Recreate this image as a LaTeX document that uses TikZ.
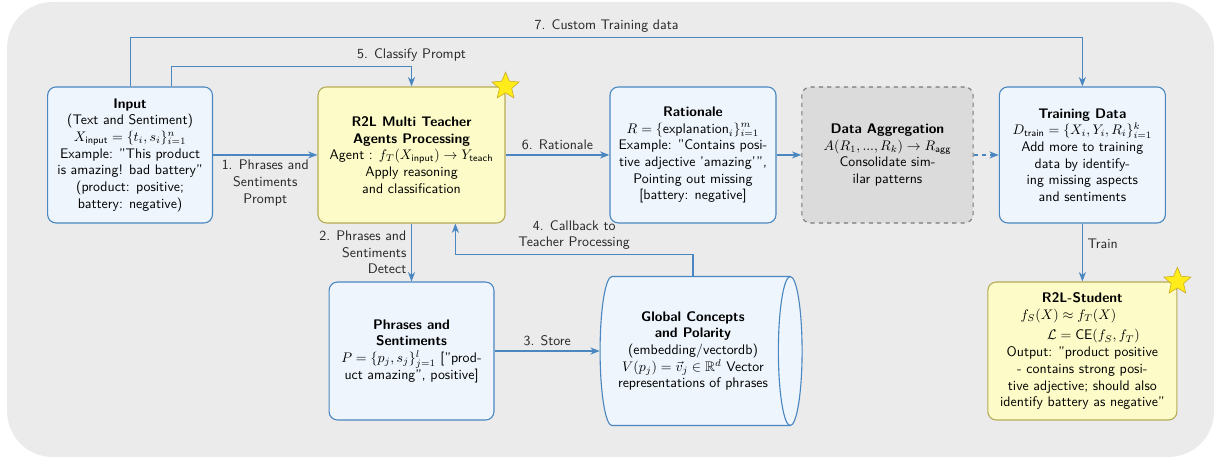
\documentclass[tikz,border=0pt]{standalone}
\usepackage{amsmath,amssymb}
\usepackage{xcolor}
\usepackage{tikz}
\usetikzlibrary{arrows.meta,shapes.geometric}

\definecolor{bggray}{HTML}{EBEBEB}
\definecolor{lineblue}{HTML}{4A86C0}
\definecolor{boxblue}{HTML}{EEF5FD}
\definecolor{boxyellow}{HTML}{FDFCC8}
\definecolor{edgeyellow}{HTML}{B5AB55}
\definecolor{aggfill}{HTML}{DBDBDB}
\definecolor{aggline}{HTML}{787878}
\definecolor{starfill}{HTML}{FFEC1A}
\definecolor{staredge}{HTML}{C9A81E}

\tikzset{
  every node/.style={font=\sffamily},
  bluebox/.style={draw=lineblue,fill=boxblue,thick,rounded corners=6pt,align=center},
  yellowbox/.style={draw=edgeyellow,fill=boxyellow,thick,rounded corners=6pt,align=center},
  aggbox/.style={draw=aggline,fill=aggfill,thick,dashed,rounded corners=6pt,align=center},
  drum/.style={draw=lineblue,fill=boxblue,thick},
  starmark/.style={star,star points=5,star point ratio=2.2,minimum size=0.72cm,inner sep=0pt,fill=starfill,draw=staredge},
  flow/.style={-{Stealth[length=2.4mm,width=1.8mm]},draw=lineblue,thick},
  lbl/.style={text=black!85,align=center}
}

\begin{document}
\begin{tikzpicture}

\useasboundingbox (0,0) rectangle (30.71,11.56);

% Backdrop
\fill[bggray,rounded corners=1.15cm] (0.18,0) rectangle (30.71,11.51);

% Top row
\node[bluebox,minimum width=4.17cm,minimum height=3.44cm] (input) at (3.29,7.64)
  {\textbf{Input}\\(Text and Sentiment)\\$X_{\text{input}}=\{t_i,s_i\}_{i=1}^{n}$\\Example: "This product\\is amazing! bad battery"\\(product: positive;\\battery: negative)};
\node[yellowbox,minimum width=4.73cm,minimum height=3.44cm] (teacher) at (10.41,7.64)
  {\textbf{R2L Multi Teacher}\\\textbf{Agents Processing}\\Agent : $f_T(X_{\text{input}})\rightarrow Y_{\text{teach}}$\\Apply reasoning\\and classification};
\node[bluebox,minimum width=4.2cm,minimum height=3.44cm] (rationale) at (17.53,7.64)
  {\textbf{Rationale}\\$R=\{\text{explanation}_i\}_{i=1}^{m}$\\Example: "Contains posi-\\tive adjective 'amazing'",\\Pointing out missing\\{[}battery: negative{]}};
\node[aggbox,minimum width=4.33cm,minimum height=3.44cm] (aggregate) at (22.45,7.64)
  {\textbf{Data Aggregation}\\$A(R_1,...,R_k)\rightarrow R_{\text{agg}}$\\Consolidate sim-\\ilar patterns};
\node[bluebox,minimum width=4.2cm,minimum height=3.44cm] (train) at (27.38,7.64)
  {\textbf{Training Data}\\$D_{\text{train}}=\{X_i,Y_i,R_i\}_{i=1}^{k}$\\Add more to training\\data by identify-\\ing missing aspects\\and sentiments};

% Vector store drum, lying on its side
\filldraw[drum] (15.48,4.565) -- (19.99,4.565)
  arc[start angle=90,end angle=-90,x radius=0.3,y radius=1.885]
  -- (15.48,0.795)
  arc[start angle=270,end angle=90,x radius=0.3,y radius=1.885] -- cycle;
\draw[drum,fill=none] (19.99,4.565) arc[start angle=90,end angle=270,x radius=0.3,y radius=1.885];

% Bottom row
\node[bluebox,minimum width=4.17cm,minimum height=3.49cm] (phrases) at (10.41,2.68)
  {\textbf{Phrases and}\\\textbf{Sentiments}\\$P=\{p_j,s_j\}_{j=1}^{l}$ {[}"prod-\\uct amazing", positive{]}};
\node[align=center,minimum width=4.7cm,minimum height=3.77cm] (concepts) at (17.53,2.68)
  {\textbf{Global Concepts}\\\textbf{and Polarity}\\(embedding/vectordb)\\$V(p_j)=\vec{v}_j\in\mathbb{R}^d$ Vector\\representations of phrases};
\node[yellowbox,minimum width=4.78cm,minimum height=3.49cm] (student) at (27.38,2.68)
  {\textbf{R2L-Student}\\\hspace*{-2em}$f_S(X)\approx f_T(X)$\\[3pt]\hspace*{1.6em}$\mathcal{L}=\text{CE}(f_S,f_T)$\\Output: "product positive\\- contains strong posi-\\tive adjective; should also\\identify battery as negative"};

% Stars
\node[starmark] (tstar) at (teacher.north east) {};
\node[starmark] (sstar) at (student.north east) {};

% Main flow
\draw[flow] (input) -- node[lbl,below] {1. Phrases and\\Sentiments\\Prompt} (teacher);
\draw[flow] (teacher) -- node[lbl,above] {6. Rationale} (rationale);
\draw[flow] (rationale) -- (aggregate);
\draw[flow,dashed] (aggregate) -- (train);
\draw[flow] (teacher) -- node[lbl,left,align=right] {2. Phrases and\\Sentiments\\Detect} (phrases);
\draw[flow] (phrases) -- node[lbl,above] {3. Store} (concepts);
\draw[flow] (train) -- node[lbl,right,pos=0.35] {Train} (student);

% Loops over the top
\draw[flow] ([xshift=1.04cm]input.north) -- ++(0,0.51) -| node[lbl,above,pos=0.5] {5. Classify Prompt} (teacher.north);
\draw[flow] ([xshift=0.02cm]input.north) -- ++(0,1.24) -| node[lbl,above,pos=0.25] {7. Custom Training data} (train.north);

% Callback
\draw[flow] (concepts.north) -- ++(0,0.54) -| node[lbl,above,pos=0.25] {4. Callback to\\Teacher Processing} ([xshift=1.11cm]teacher.south);

\end{tikzpicture}
\end{document}
